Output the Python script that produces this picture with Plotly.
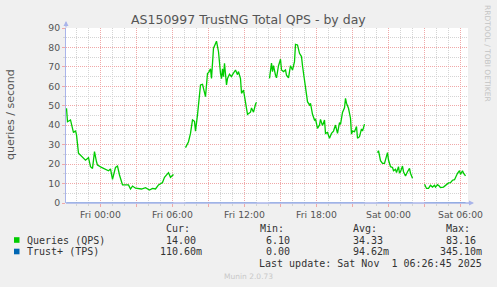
import pandas as pd
import plotly.graph_objects as go

# ---------------- data ----------------
base_time = "2025-10-31 00:00"  # Fri 00:00
# minutes relative to Fri 00:00 ; None values break the line (no data)
qps_minutes = [
    -170, -165, -150, -145, -135, -125, -120, -110, -95, -75, -60, -50, -40, -30, -20, -15,
    5, 25, 40, 50, 60, 75, 85, 95, 110, 140, 150, 160, 175, 205, 225, 245, 260, 275, 290,
    310, 320, 340, 350, 365,
    395,
    425, 440, 450, 460, 470, 475, 485, 490, 500, 510, 525, 535, 540, 550, 555, 565, 580,
    590, 595, 600, 605, 610, 615, 620, 630, 635, 645, 655, 660, 675, 685, 690, 700, 705,
    715, 720, 730, 735, 750, 755, 765, 775, 780,
    810,
    845, 855, 860, 865, 875, 880, 890, 900, 905, 915, 925, 930, 940, 950, 960, 970, 975,
    985, 995, 1005, 1010, 1020, 1030, 1035, 1045, 1050, 1060, 1070, 1075, 1085, 1095, 1100,
    1110, 1120, 1125, 1135, 1145, 1155, 1165, 1175, 1185, 1195, 1200, 1210, 1220, 1225,
    1230, 1240, 1250, 1255, 1260, 1270, 1280, 1285, 1295, 1305, 1310, 1320,
    1350,
    1385, 1390, 1400, 1410, 1420, 1425, 1435, 1440, 1450, 1460, 1465, 1475, 1480, 1490,
    1495, 1500, 1510, 1515, 1525, 1535, 1545, 1550, 1560,
    1590,
    1620, 1630, 1640, 1650, 1660, 1670, 1675, 1685, 1695, 1700, 1715, 1725, 1740, 1750,
    1760, 1770, 1775, 1785, 1795, 1800, 1810, 1815, 1825,
]
qps_values = [
    48.7, 41.8, 42.7, 40.0, 36.2, 37.2, 35.0, 25.6, 24.2, 22.0, 23.3, 18.7, 17.8, 26.4, 21.2, 19.5,
    18.3, 17.5, 16.6, 17.5, 12.2, 18.3, 19.0, 14.4, 9.3, 9.3, 7.2, 8.7, 7.6, 7.2, 7.9, 6.7, 7.5, 7.2, 9.3,
    10.5, 13.2, 15.6, 13.2, 14.7,
    None,
    28.5, 31.5, 35.8, 42.7, 42.0, 37.0, 45.3, 50.4, 60.7, 61.0, 54.7, 66.7, 67.0, 69.0, 64.1, 79.6, 83.2,
    77.8, 69.3, 66.7, 64.0, 69.0, 65.0, 71.9, 60.7, 64.0, 66.2, 65.0, 66.0, 68.4, 66.0, 67.6, 64.0, 56.4,
    58.0, 54.0, 48.7, 45.6, 46.7, 48.9, 46.7, 50.8, 51.8,
    None,
    64.1, 71.9, 67.6, 70.6, 65.7, 64.4, 70.6, 73.9, 68.4, 67.6, 68.4, 65.7, 64.4, 70.6, 68.4, 72.7, 81.6,
    81.3, 77.0, 75.3, 70.6, 63.3, 57.3, 52.1, 50.4, 51.3, 45.6, 42.7, 43.2, 38.4, 40.1, 43.0,
    39.8, 42.7, 35.8, 36.3, 33.3, 35.8, 37.0, 40.1, 35.8, 41.3, 40.4, 46.6, 49.0, 53.8,
    51.3, 48.7, 43.6, 35.4, 37.0, 36.7, 39.3, 33.3, 34.1, 38.1, 37.0, 40.6,
    None,
    25.9, 26.9, 21.8, 20.4, 20.4, 22.1, 25.9, 22.1, 18.7, 18.3, 16.6, 17.3, 15.6, 18.7,
    15.3, 16.1, 19.0, 16.1, 13.9, 16.1, 17.8, 15.3, 12.7,
    None,
    9.6, 7.5, 7.5, 9.1, 8.2, 9.1, 8.2, 9.4, 8.6, 7.9, 8.2, 9.1, 10.3, 10.5,
    11.7, 12.0, 13.4, 15.3, 16.6, 14.7, 16.6, 15.3, 14.0,
]
tps_minutes = [-170, 365, 395, 425, 780, 810, 845, 885, 890, 895, 970, 975, 980, 1200, 1205, 1210,
               1320, 1350, 1385, 1560, 1590, 1620, 1825]
tps_values = [0.0, 0.0, None, 0.0, 0.0, None, 0.0, 0.0, 0.3, 0.0, 0.0, 0.345, 0.0, 0.0, 0.3, 0.0,
              0.0, None, 0.0, 0.0, None, 0.0, 0.11]

series_names = ["Queries (QPS)", "Trust+ (TPS)"]
series_colors = ["#00CC00", "#0066B3"]
stat_headers = ["Cur:", "Min:", "Avg:", "Max:"]
stat_values = [
    [("14.00", ""), ("6.10", ""), ("34.33", ""), ("83.16", "")],
    [("110.60", "m"), ("0.00", ""), ("94.62", "m"), ("345.10", "m")],
]
x_label_hours = [0, 6, 12, 18, 24, 30]
x_label_text = ["Fri 00:00", "Fri 06:00", "Fri 12:00", "Fri 18:00", "Sat 00:00", "Sat 06:00"]
title = "AS150997 TrustNG Total QPS - by day"
y_title = "queries / second"
last_update = "Last update: Sat Nov  1 06:26:45 2025"
watermark = "RRDTOOL / TOBI OETIKER"
footer = "Munin 2.0.73"

# ---------------- build ----------------
t0 = pd.Timestamp(base_time)
qps_t = [t0 + pd.Timedelta(minutes=m) for m in qps_minutes]
tps_t = [t0 + pd.Timedelta(minutes=m) for m in tps_minutes]

W, H = 497, 287
L, R, T, B = 66, 29, 28, 84
PW, PH = W - L - R, H - T - B


def px(x):
    return (x - L) / PW


def py(y):
    return (H - B - y) / PH


fig = go.Figure()
fig.add_trace(go.Scatter(x=qps_t, y=qps_values, mode="lines", name=series_names[0],
                         line=dict(color=series_colors[0], width=1.3), connectgaps=False))
fig.add_trace(go.Scatter(x=tps_t, y=tps_values, mode="lines", name=series_names[1],
                         line=dict(color=series_colors[1], width=1.2), connectgaps=False))

x_start = t0 + pd.Timedelta(minutes=-(100.5 - L) * 5)
x_end = t0 + pd.Timedelta(minutes=(W - R - 100.5) * 5)

major_vals = [t0 + pd.Timedelta(hours=h) for h in range(0, 31, 3)]
major_text = []
for h in range(0, 31, 3):
    if h in x_label_hours:
        major_text.append(x_label_text[x_label_hours.index(h)])
    else:
        major_text.append("")

RED = "#F0A8A8"
GREY = "#D4D4D4"
AXIS = "#A9B4EA"
TXT = "#555555"

fig.update_xaxes(
    range=[x_start, x_end], tickvals=major_vals, ticktext=major_text,
    showgrid=True, gridcolor=RED, griddash="1px,1px", gridwidth=1,
    ticks="outside", ticklen=3, tickcolor=RED,
    tickfont=dict(family="DejaVu Sans", size=9.3, color=TXT),
    showline=False, zeroline=False,
    minor=dict(dtick=3600000, tick0=base_time, showgrid=True, gridcolor=GREY,
               griddash="1px,1px", gridwidth=1, ticks="outside", ticklen=2, tickcolor=GREY),
)
fig.update_yaxes(
    range=[0, 90], dtick=10, tick0=0,
    showgrid=True, gridcolor=RED, griddash="1px,1px", gridwidth=1,
    ticks="outside", ticklen=3, tickcolor=RED,
    tickfont=dict(family="DejaVu Sans", size=9.3, color=TXT),
    showline=True, linecolor=AXIS, linewidth=1, zeroline=False,
    minor=dict(dtick=5, showgrid=True, gridcolor=GREY, griddash="1px,1px", gridwidth=1,
               ticks="outside", ticklen=2, tickcolor=GREY),
)

ann = []
# title
ann.append(dict(x=px(248), y=py(19), text=title, showarrow=False, xanchor="center", yanchor="middle",
                font=dict(family="DejaVu Sans", size=12.5, color=TXT)))
# y title
ann.append(dict(x=px(10), y=py(115), text=y_title, showarrow=False, textangle=-90,
                xanchor="center", yanchor="middle",
                font=dict(family="DejaVu Sans", size=11, color=TXT)))
# watermark
ann.append(dict(x=px(488), y=py(53), text=watermark, showarrow=False, textangle=90,
                xanchor="center", yanchor="middle",
                font=dict(family="DejaVu Sans", size=7.5, color="#C4C4C4")))
# axis arrows
ann.append(dict(x=px(L), y=py(21), ax=0, ay=8, text="", showarrow=True, arrowhead=2,
                arrowsize=1, arrowwidth=1, arrowcolor=AXIS))
ann.append(dict(x=px(474), y=py(H - B), ax=-7, ay=0, text="", showarrow=True, arrowhead=2,
                arrowsize=1, arrowwidth=1, arrowcolor=AXIS))

MONO = dict(family="DejaVu Sans Mono", size=10, color="#333333")
col_right = [203, 297, 390, 483]
row_y = [240, 251.5]
for i, hdr in enumerate(stat_headers):
    ann.append(dict(x=px(col_right[i] - 11), y=py(228), text=hdr, showarrow=False,
                    xanchor="right", yanchor="middle", font=MONO))
shapes = []
# x axis line drawn above the traces (the zero-valued series sits under it)
shapes.append(dict(type="line", xref="paper", yref="paper", x0=0, x1=px(470), y0=0, y1=0,
                   line=dict(color=AXIS, width=1.6), layer="above"))
for r, name in enumerate(series_names):
    ann.append(dict(x=px(25), y=py(row_y[r]), text=name, showarrow=False,
                    xanchor="left", yanchor="middle", font=MONO))
    shapes.append(dict(type="rect", xref="paper", yref="paper",
                       x0=px(14), x1=px(19.5), y0=py(row_y[r] - 2.8), y1=py(row_y[r] + 2.8),
                       fillcolor=series_colors[r], line=dict(width=0)))
    for c, (num, suf) in enumerate(stat_values[r]):
        ann.append(dict(x=px(col_right[c] + 1), y=py(row_y[r]), text=num + (suf if suf else "\u00a0"),
                        showarrow=False, xanchor="right", yanchor="middle", font=MONO))
ann.append(dict(x=px(484), y=py(263), text=last_update, showarrow=False,
                xanchor="right", yanchor="middle", font=MONO))
ann.append(dict(x=px(248), y=py(276), text=footer, showarrow=False, xanchor="center",
                yanchor="middle", font=dict(family="DejaVu Sans", size=7.5, color="#C8C8C8")))

for a in ann:
    a.setdefault("xref", "paper")
    a.setdefault("yref", "paper")

fig.update_layout(
    width=W, height=H, margin=dict(l=L, r=R, t=T, b=B, pad=0),
    paper_bgcolor="#F0F0F0", plot_bgcolor="#FFFFFF",
    showlegend=False, annotations=ann, shapes=shapes,
)

fig.write_html("out.html")
